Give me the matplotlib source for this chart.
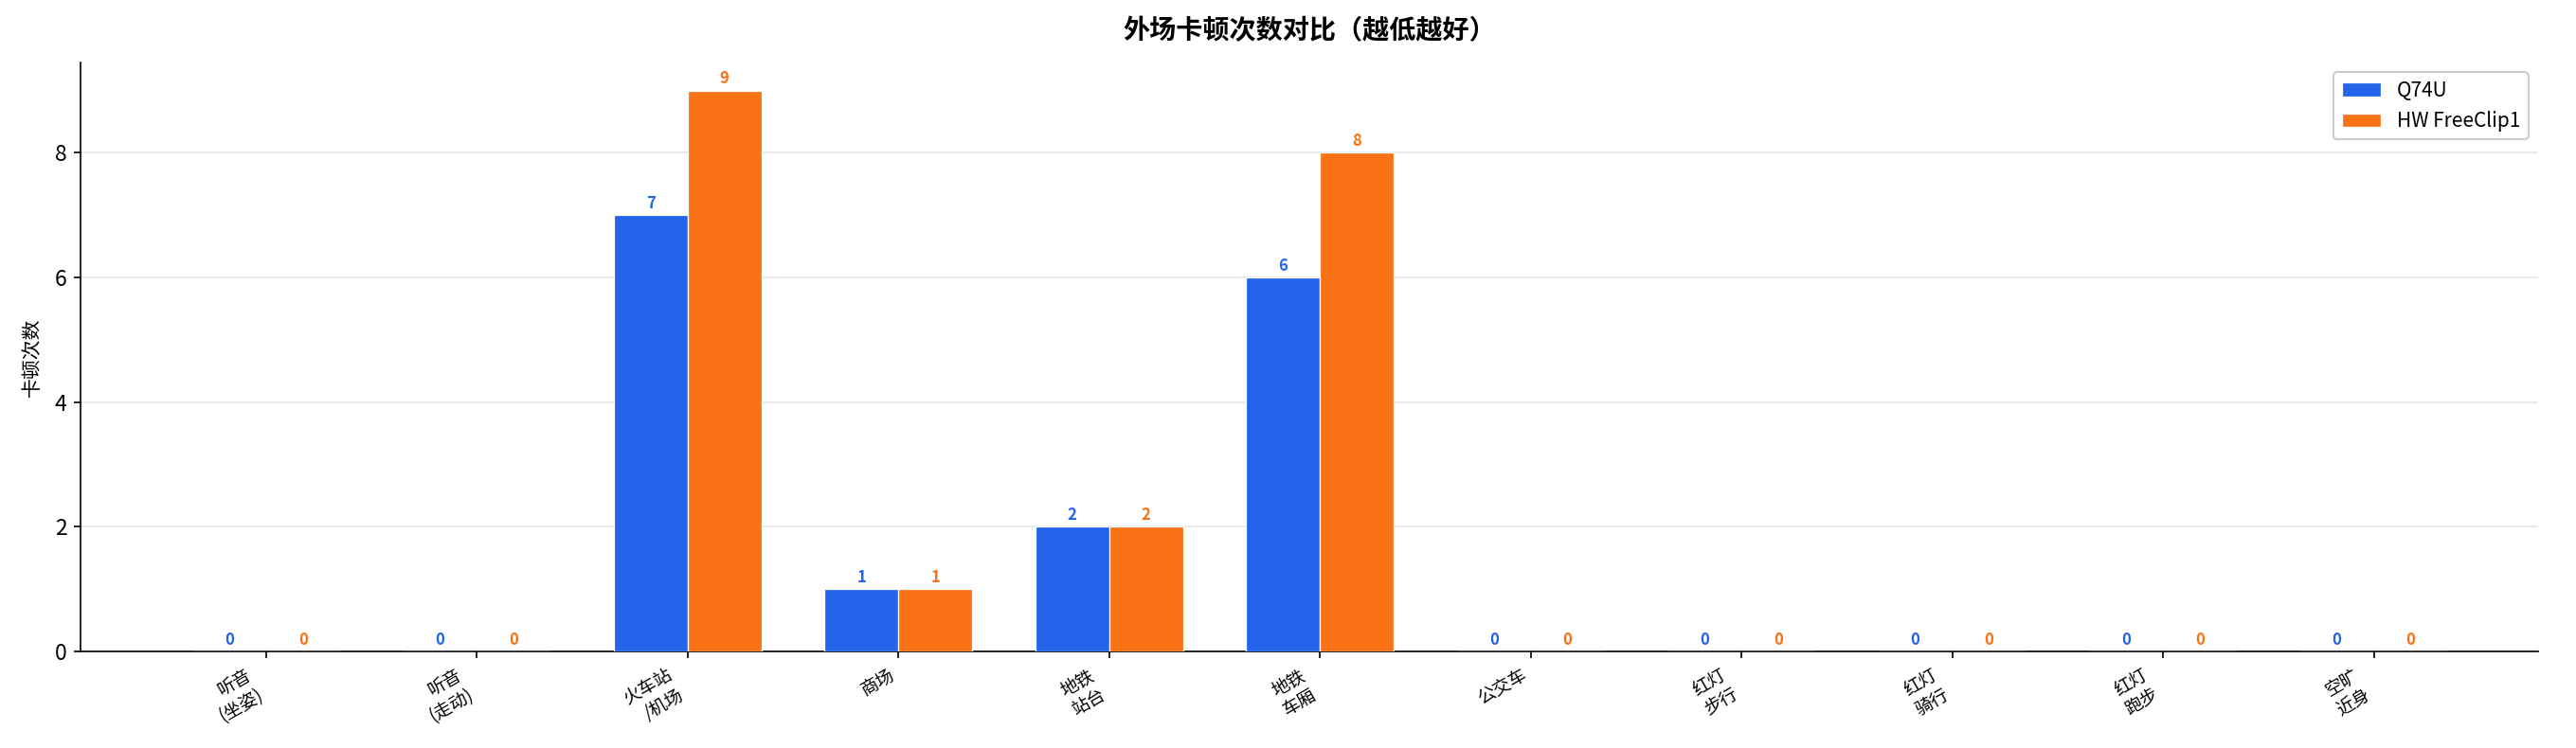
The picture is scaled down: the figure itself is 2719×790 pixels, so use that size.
import numpy as np
import matplotlib
matplotlib.use("Agg")
import matplotlib.pyplot as plt

plt.rcParams["font.family"] = ["Noto Sans CJK SC", "DejaVu Sans"]

# ---------------------------------------------------------------------------
# Data
# ---------------------------------------------------------------------------
scenes = ["听音\n(坐姿)", "听音\n(走动)", "火车站\n/机场", "商场", "地铁\n站台",
          "地铁\n车厢", "公交车", "红灯\n步行", "红灯\n骑行", "红灯\n跑步", "空旷\n近身"]
q74u = [0, 0, 7, 1, 2, 6, 0, 0, 0, 0, 0]
freeclip = [0, 0, 9, 1, 2, 8, 0, 0, 0, 0, 0]
series_names = ["Q74U", "HW FreeClip1"]

BLUE = "#2563EB"
ORANGE = "#F97316"

fig, ax = plt.subplots(figsize=(2719 / 150, 790 / 150), dpi=150)
fig.subplots_adjust(left=0.0313, right=0.9853, top=0.9165, bottom=0.129)

x = np.arange(len(scenes))
w = 0.35
b1 = ax.bar(x - w / 2, q74u, w, color=BLUE, edgecolor="white", linewidth=0.6,
            label=series_names[0], zorder=3)
b2 = ax.bar(x + w / 2, freeclip, w, color=ORANGE, edgecolor="white", linewidth=0.6,
            label=series_names[1], zorder=3)

for bars, color in ((b1, BLUE), (b2, ORANGE)):
    for r in bars:
        h = r.get_height()
        ax.text(r.get_x() + r.get_width() / 2, h + 0.05, f"{int(h)}",
                ha="center", va="bottom", fontsize=8, fontweight="bold", color=color)

ax.set_xticks(x)
ax.set_xticklabels(scenes, rotation=30, ha="right", fontsize=9)
ax.tick_params(axis="y", labelsize=11)
ax.set_xlim(-0.88, 10.78)
ax.set_ylim(0, 9.45)
ax.set_ylabel("卡顿次数", fontsize=10, labelpad=6)
ax.set_title("外场卡顿次数对比（越低越好）", fontsize=13.5, fontweight="bold", pad=12)

ax.grid(axis="y", color="#e5e5e5", linewidth=0.8, zorder=0)
ax.set_axisbelow(True)
ax.spines["top"].set_visible(False)
ax.spines["right"].set_visible(False)

ax.legend(loc="upper right", fontsize=10, framealpha=1.0, edgecolor="#cccccc")

fig.savefig("out.png", dpi=150)
